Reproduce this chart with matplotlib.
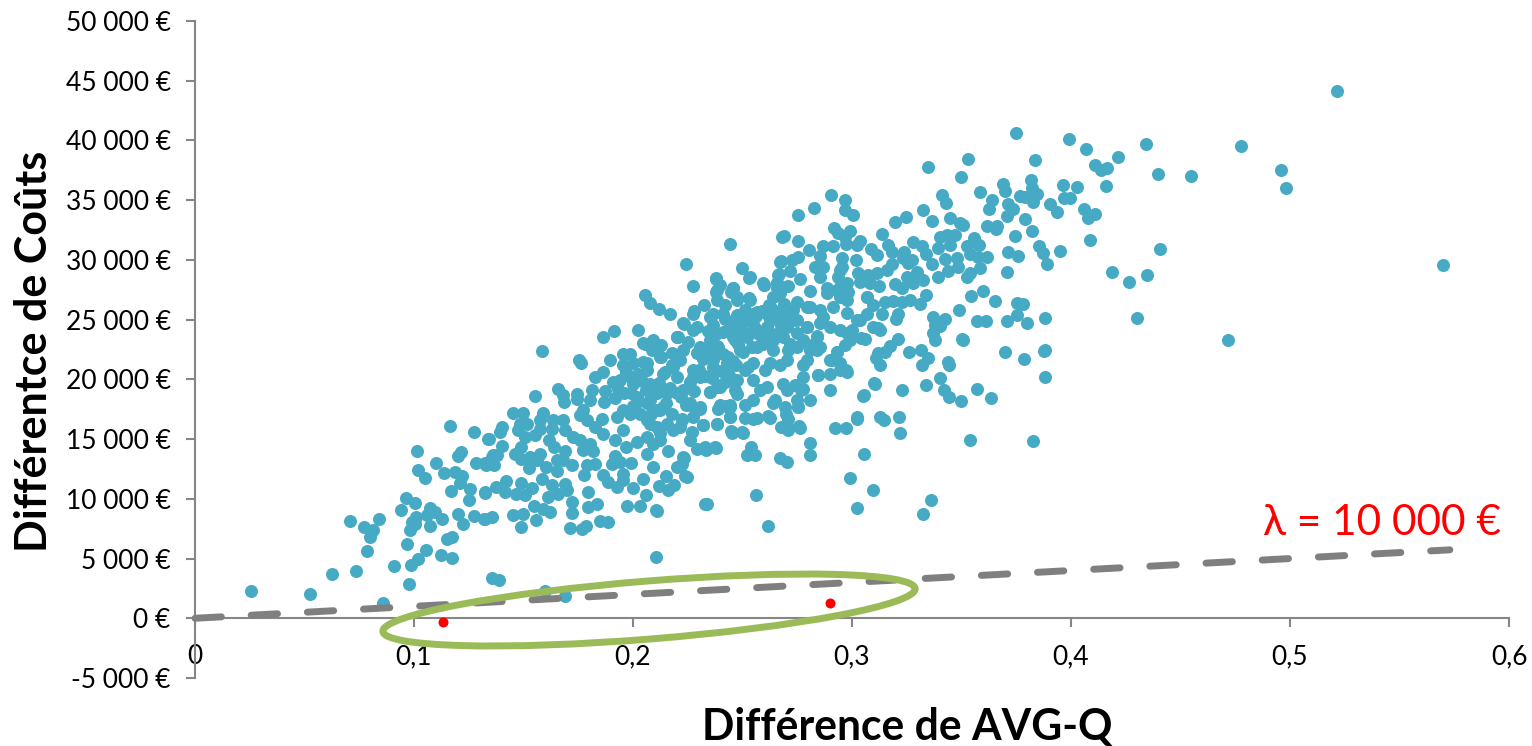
"""Cost difference vs AVG-Q difference scatter, with the lambda threshold line."""

import matplotlib as mpl
import numpy as np
from matplotlib import patches as mpatches
from matplotlib import pyplot as plt
from matplotlib.transforms import IdentityTransform

mpl.rcParams["font.family"] = ["Lato", "DejaVu Sans"]

X_TICKS = [0, 0.1, 0.2, 0.3, 0.4, 0.5, 0.6]
X_LABELS = ["0", "0,1", "0,2", "0,3", "0,4", "0,5", "0,6"]
Y_TICKS = [-5000, 0, 5000, 10000, 15000, 20000, 25000, 30000, 35000, 40000, 45000, 50000]
Y_LABELS = ["-5 000 €", "0 €", "5 000 €", "10 000 €", "15 000 €", "20 000 €",
            "25 000 €", "30 000 €", "35 000 €", "40 000 €", "45 000 €", "50 000 €"]

LAMBDA = 10000
LINE_X = [0, 0.573]

# (AVG-Q difference, cost difference)
LOW_LEFT = [
    (.0254, 2300), (.0525, 2030), (.0627, 3740), (.0734, 3990), (.0706, 8120), (.0773, 7650),
    (.0814, 7430), (.0801, 6810), (.0839, 8320), (.0785, 5610), (.0857, 1250), (.091, 4410),
    (.0939, 9100), (.0965, 10080), (.1006, 9690), (.1012, 13990), (.1017, 12400), (.105, 11750),
    (.1099, 13000), (.1166, 16080), (.1274, 15600), (.1339, 14970), (.1137, 12140), (.12, 13570),
    (.1213, 13960), (.1187, 12230), (.122, 11870), (.121, 11360), (.117, 10690), (.1257, 10860),
    (.1251, 9880), (.1324, 10550), (.1283, 12960), (.1324, 12960), (.1355, 13510), (.0982, 7370),
    (.0989, 8060), (.1009, 8480), (.1005, 7930), (.1061, 8630), (.1073, 9190), (.1096, 8900),
    (.1073, 7730), (.1126, 8270), (.12, 8740), (.1225, 7900), (.1273, 8600), (.1321, 8320),
    (.1152, 6620), (.1174, 6840), (.0967, 6220), (.1055, 5750), (.1018, 4940), (.0986, 4440),
    (.1123, 5280), (.1174, 5050), (.0977, 2910), (.1355, 3410), (.1388, 3200), (.1598, 2300),
    (.1689, 1900), (.2106, 5100), (.2562, 10300), (.2616, 7700), (.2329, 9550), (.2105, 9040),
]
MIDDLE_LOW = [
    (.1583, 22360), (.1755, 21610), (.1762, 21410), (.1863, 23560), (.1914, 24060), (.2021, 24120),
    (.1895, 21610), (.1955, 22110), (.1986, 22110), (.1826, 20210), (.1864, 20630), (.191, 19790),
    (.194, 19930), (.1955, 21190), (.2001, 21330), (.2047, 21470), (.197, 20630), (.2024, 20490),
    (.2001, 19650), (.2077, 19650), (.2062, 20770), (.2054, 23000), (.2092, 23280), (.213, 22860),
    (.2085, 22440), (.213, 21890), (.2176, 22170), (.2214, 21610), (.2146, 20630), (.2199, 20210),
    (.2275, 20210), (.2305, 20210), (.2204, 23560), (.2252, 23140), (.229, 22170), (.2351, 22860),
    (.2389, 22720), (.2275, 24120), (.2351, 23980), (.2458, 23560), (.2435, 21890), (.2366, 21610),
    (.2458, 19930), (.2382, 19370), (.2351, 18950), (.1552, 18620), (.1657, 19180), (.1682, 18680),
    (.1685, 18120), (.1745, 18810), (.1745, 18390), (.1811, 19090), (.1803, 18260), (.1872, 19040),
    (.1867, 18120), (.1917, 18450), (.1773, 17420), (.1758, 17000), (.1788, 16580), (.1453, 17220),
    (.1499, 17220), (.159, 17220), (.1484, 16300), (.1514, 16300), (.1575, 16580), (.1636, 16580),
    (.1682, 16580), (.1476, 15740), (.1552, 15320), (.1575, 15880), (.1628, 15880), (.1689, 15740),
    (.14, 16020), (.1392, 15600), (.1344, 14990), (.14, 14430), (.1506, 15180), (.149, 14350),
    (.146, 13730), (.149, 13370), (.1529, 13510), (.1575, 13790), (.156, 13230), (.1618, 14960),
    (.1639, 14350), (.169, 14010), (.1654, 13230), (.172, 12810), (.1682, 13230), (.1601, 12670),
    (.1651, 12310), (.1525, 12590), (.1362, 13710), (.1377, 13650), (.1331, 12870), (.1365, 12810),
    (.1727, 15180), (.1758, 14910), (.1803, 14630), (.1773, 14070), (.1819, 14010), (.1857, 16720),
    (.1826, 16020), (.1864, 15460), (.1917, 14910), (.1925, 16860), (.1955, 17420), (.1986, 17140),
    (.1955, 15740), (.197, 14350), (.2016, 14770), (.2062, 15180), (.2092, 14630), (.2032, 17140),
    (.2062, 16580), (.2108, 17420), (.2016, 18540), (.2077, 18260), (.2138, 17700), (.2153, 16300),
    (.2108, 16020), (.2222, 16720), (.2275, 16860), (.2214, 16020), (.226, 17840), (.2305, 17560),
    (.2321, 16160), (.2389, 17560), (.2442, 17700), (.2442, 16810), (.2385, 16300), (.2453, 15580),
    (.2123, 14910), (.2161, 14010), (.2062, 13790), (.2092, 12670), (.229, 14210), (.2333, 14070),
    (.2374, 14350), (.2229, 13510), (.2225, 12950), (.2248, 11830), (.1917, 13570), (.1902, 12950),
    (.194, 13090), (.1993, 13040), (.1788, 12810), (.1826, 12900), (.1777, 12030), (.1864, 11970),
    (.1887, 11420), (.1955, 12110), (.1955, 11560), (.1925, 10990), (.2001, 10940), (.2044, 11700),
    (.215, 11950), (.212, 11080), (.2161, 10770), (.2187, 11140), (.2059, 10360), (.1972, 9430),
    (.2032, 9380), (.2108, 9010), (.2336, 9570), (.1793, 10600), (.172, 9710), (.1721, 8820),
    (.1796, 9320), (.1834, 9550), (.1324, 10520), (.1373, 10990), (.142, 11500), (.1415, 10580),
    (.1468, 10380), (.1507, 10300), (.1488, 11360), (.1541, 10940), (.1583, 11640), (.1613, 10160),
    (.1631, 11140), (.1659, 10440), (.1689, 11220), (.1697, 10720), (.1549, 9400), (.159, 9180),
    (.162, 8930), (.1324, 8290), (.1354, 8480), (.1453, 8620), (.1499, 8760), (.1487, 7650),
    (.1555, 8260), (.1712, 7560), (.1765, 7450), (.1785, 7730), (.1849, 8150), (.1887, 8070),
]
MIDDLE_HIGH = [
    (.2056, 27100), (.2079, 26430), (.2118, 25900), (.2169, 25460), (.2242, 29670), (.2272, 27800),
    (.2441, 31290), (.2377, 28420), (.2397, 27890), (.2379, 27330), (.2385, 26630), (.2496, 29310),
    (.2531, 28500), (.2598, 27890), (.2458, 27660), (.2446, 27330), (.242, 26210), (.2473, 26910),
    (.2531, 26770), (.2473, 25370), (.2324, 26210), (.2278, 25760), (.2232, 24670), (.2366, 25510),
    (.242, 25090), (.2366, 24530), (.2344, 24060), (.2202, 23560), (.2047, 23080), (.2306, 22720),
    (.2351, 23280), (.2385, 22800), (.2473, 23840), (.2465, 23280), (.2564, 25650), (.2633, 25930),
    (.264, 26910), (.2671, 27800), (.2663, 28720), (.2671, 29840), (.2679, 31940), (.2549, 24670),
    (.2625, 24950), (.2519, 23560), (.2595, 23000),
]
CENTRE = [
    (.2412, 22100), (.2455, 21500), (.25, 22300), (.2525, 21000), (.248, 23000), (.2545, 22700),
    (.249, 24400), (.253, 24900), (.256, 24200), (.258, 23700), (.261, 23100), (.264, 22500),
    (.266, 23900), (.27, 24900), (.272, 25300), (.275, 25000), (.269, 26300), (.265, 25200),
    (.262, 26200), (.259, 25700), (.256, 25300), (.251, 25800), (.244, 24800), (.241, 24000),
    (.238, 23800), (.235, 22300), (.232, 21700), (.23, 20800), (.233, 20300), (.236, 20100),
    (.24, 20700), (.244, 20400), (.247, 21200), (.242, 19800), (.218, 21200), (.215, 19000),
    (.211, 18900), (.206, 19100), (.202, 18100), (.199, 18900), (.223, 19100), (.226, 19800),
    (.222, 18500), (.228, 19000), (.212, 19700), (.2626, 25520), (.2687, 25800), (.2747, 26500),
    (.2808, 26070), (.2869, 25240), (.2915, 26070), (.2976, 25520), (.261, 24400), (.2671, 24680),
    (.2732, 24960), (.2793, 24400), (.2854, 24680), (.2626, 23280), (.2687, 23560), (.2747, 23840),
]
DENSE_CORE = [
    (.2489, 24960), (.2549, 25510), (.261, 25510), (.2671, 25510), (.2732, 25790), (.2793, 26070),
    (.2854, 25790), (.2671, 27190), (.2656, 28030), (.2458, 23840), (.2534, 23840), (.261, 24120),
    (.2702, 24400), (.2793, 24400), (.2489, 22440), (.2565, 22720), (.2641, 23280), (.2717, 23000),
    (.2808, 22720), (.2382, 22440), (.2306, 22160), (.223, 22440), (.2367, 21050), (.2428, 21330),
    (.255, 21330), (.2626, 21330), (.2702, 21600), (.2793, 21600), (.2276, 20770), (.2184, 21050),
    (.2123, 21880), (.2291, 24400), (.2352, 25230), (.2413, 25510), (.2276, 25510), (.223, 24680),
    (.2199, 23560), (.2473, 26630), (.2534, 26630), (.2382, 27470), (.2458, 27610), (.2595, 28030),
    (.2534, 28590), (.2379, 28450), (.2884, 27190), (.2945, 27750), (.2976, 26630), (.3067, 26910),
    (.3067, 25510), (.3021, 24960), (.3097, 24400), (.2976, 23840), (.2839, 23560), (.2839, 22440),
    (.293, 22300), (.2907, 21600), (.2945, 21330), (.2976, 20630), (.29, 20490), (.2846, 20400),
    (.29, 19090), (.3052, 18620), (.3105, 19650), (.3021, 16720), (.2778, 20210), (.2778, 19230),
    (.2747, 18260), (.2808, 18260), (.2755, 17700), (.2686, 19650), (.2702, 19090), (.261, 19370),
    (.2549, 19930), (.2473, 19930), (.2473, 18810), (.2352, 18950), (.2397, 19370), (.2549, 18260),
    (.2511, 17840), (.2641, 17980), (.2694, 17700), (.2618, 16940), (.2549, 16660), (.2709, 16660),
    (.2709, 15800), (.2763, 15970), (.2397, 17840), (.2443, 17840), (.2443, 16860), (.2382, 16300),
    (.2451, 15550), (.2504, 15470), (.226, 17980), (.2306, 17700), (.2222, 16580), (.2321, 16160),
    (.2199, 18820), (.2154, 18820), (.2078, 19370), (.2062, 17980), (.2123, 17420), (.2139, 20490),
    (.2062, 21330), (.2078, 16300), (.2123, 15470), (.2184, 15740), (.199, 20200), (.204, 19900),
    (.209, 19000), (.217, 19300), (.208, 17100), (.2, 17800), (.215, 18000), (.218, 17100),
    (.196, 18900), (.193, 19200),
]
UPPER = [
    (.3747, 40590), (.3531, 38440), (.3836, 38360), (.3349, 37750), (.3498, 36910), (.3816, 36680),
    (.3691, 36350), (.3699, 35790), (.3823, 35990), (.3843, 35510), (.3767, 35340), (.379, 35230),
    (.3828, 34870), (.3584, 35650), (.341, 35430), (.3429, 34790), (.3638, 35010), (.3627, 34280),
    (.3711, 34670), (.3736, 34260), (.3706, 33670), (.3904, 34670), (.3935, 34030), (.379, 33450),
    (.382, 32440), (.3326, 34200), (.3364, 33250), (.3245, 33610), (.3195, 33190), (.3448, 33530),
    (.3493, 33110), (.3508, 32890), (.3618, 32800), (.3664, 32830), (.3658, 32550), (.3746, 32020),
    (.3136, 32130), (.2906, 35460), (.2967, 35040), (.2968, 34170), (.3006, 33780), (.2827, 34370),
    (.2752, 33720), (.269, 31990), (.2755, 31570), (.2802, 30850), (.2918, 32640), (.2938, 32220),
    (.2991, 32440), (.2968, 31940), (.3037, 31600), (.2973, 31320), (.3021, 31240), (.2869, 31180),
    (.2912, 31180), (.3088, 30880), (.3116, 30400), (.3166, 31270), (.3181, 30680), (.328, 31520),
    (.3318, 31160), (.3338, 30460), (.3239, 30680), (.3234, 30120), (.3272, 29980), (.3402, 31940),
    (.3432, 32080), (.347, 32080), (.3394, 30960), (.3448, 31240), (.3527, 31160), (.3559, 31850),
    (.3581, 31210), (.3539, 30460), (.3577, 30260), (.3618, 30210), (.3425, 30070), (.3478, 30120),
    (.344, 29090), (.3486, 29420), (.3367, 29620), (.3391, 28590), (.3585, 29290), (.3539, 28870),
    (.3524, 28530), (.3714, 30680), (.376, 30290), (.3852, 31160), (.3871, 30600), (.3892, 29620),
    (.3709, 28950), (.395, 30740), (.3017, 29980), (.2953, 30120), (.2953, 29420), (.2854, 30320),
    (.2831, 29420), (.2869, 29420), (.2755, 30210), (.2725, 29980), (.2676, 29900), (.2717, 29060),
    (.2668, 28810), (.2763, 28360), (.26, 27890), (.2709, 27810), (.2656, 28030), (.2854, 28590),
    (.2938, 28590), (.2945, 29150), (.3029, 28870), (.3075, 28730), (.3113, 28870), (.3158, 29150),
    (.3181, 29650), (.3037, 28170), (.3082, 28030), (.3125, 27830), (.2976, 28030), (.2983, 27330),
    (.2884, 27610), (.2808, 27410), (.293, 27470), (.2945, 26910), (.2664, 27050), (.2656, 27610),
    (.3257, 29700), (.3295, 29010), (.3326, 28310), (.3196, 27950), (.3227, 27610), (.325, 28590),
    (.328, 28030), (.3336, 27050), (.3311, 26350), (.3151, 26490), (.3189, 26580), (.3227, 26490),
    (.3265, 26630), (.3067, 26910), (.3097, 26210), (.3037, 25010), (.3136, 25460), (.312, 24340),
    (.3212, 25460), (.3201, 25040), (.3368, 25180), (.3426, 25040), (.3402, 24480), (.3368, 23840),
    (.3487, 25800), (.3543, 26990), (.3599, 27410), (.3654, 26520), (.3755, 26410), (.3779, 26300),
    (.3755, 25380), (.3798, 24680), (.3569, 24850), (.361, 24870), (.3706, 24850), (.3883, 25100),
    (.3504, 23370), (.3699, 22250), (.3787, 21720), (.3881, 22450), (.344, 21470), (.326, 22330),
    (.3317, 22450), (.3349, 21750), (.3212, 23370), (.3174, 22810), (.312, 22170), (.293, 22310),
    (.306, 23420), (.2999, 24120), (.2991, 23280), (.2945, 24120), (.29, 24400), (.2839, 23620),
    (.2854, 22670), (.2808, 22440), (.2778, 23280), (.2747, 22720), (.2709, 22440),
]
FAR_RIGHT = [
    (.5215, 44140), (.5699, 29560), (.4776, 39530), (.4959, 37520), (.4982, 36010), (.4548, 37020),
    (.4342, 39700), (.4397, 37180), (.3991, 40120), (.4068, 39280), (.411, 37940), (.4137, 37520),
    (.4164, 37690), (.4215, 38610), (.416, 36180), (.3963, 36260), (.4027, 36100), (.3995, 35170),
    (.3968, 35170), (.4059, 34250), (.411, 33830), (.4078, 33500), (.4087, 31660), (.4187, 28980),
    (.4265, 28140), (.4347, 28730), (.4406, 30900), (.4301, 25120), (.4717, 23280), (.3877, 22360),
    (.3881, 20180), (.3826, 14820),
]
LOWER_TAIL = [
    (.332, 21190), (.3338, 19510), (.3402, 20100), (.342, 19100), (.3443, 18510), (.3498, 18170),
    (.3571, 19180), (.3635, 18430), (.3539, 14910), (.3443, 21190), (.3228, 19100), (.3215, 16830),
    (.3219, 15490), (.3146, 16580), (.3128, 16830), (.3023, 16830), (.31, 19680), (.3055, 18680),
    (.2945, 20770), (.2973, 20770), (.3041, 23450), (.2922, 15910), (.2973, 15910), (.2991, 11730),
    (.3055, 13740), (.3096, 10720), (.3023, 9210), (.3324, 8710), (.3361, 9880), (.2808, 14650),
    (.2753, 17670), (.2758, 16080), (.2699, 17080), (.2708, 15910), (.2676, 16000), (.2671, 13400),
    (.2703, 13060), (.2808, 13650), (.2539, 14320), (.2557, 13650), (.2521, 13650), (.2447, 15660),
    (.2498, 15580), (.2329, 14320), (.2379, 14240), (.2269, 15580), (.2425, 17750), (.2511, 16750),
    (.2566, 16750), (.2626, 16750), (.2648, 18260), (.258, 19100), (.2466, 19100), (.2397, 19510),
    (.2603, 20770), (.2511, 20770), (.2671, 21190), (.274, 19510), (.2767, 19100), (.29, 21610),
    (.2845, 20350), (.2776, 21190), (.2817, 22860), (.2242, 17840), (.226, 14910), (.2233, 13400),
    (.2237, 11890), (.2201, 12650), (.3379, 24540), (.3379, 23280), (.3507, 23280), (.315, 22280),
    (.3128, 24120), (.311, 21780), (.3128, 21190), (.2968, 22860),
]
RED_POINTS = [(.1131, -280), (.29, 1250)]


def main():
    fig = plt.figure(figsize=(15.32, 7.46), dpi=100)
    ax = fig.add_axes([195 / 1532, 1 - 678 / 746, (1509 - 195) / 1532, (678 - 21) / 746])
    ax.set_xlim(0, 0.6)
    ax.set_ylim(-5000, 50000)

    for name in ["top", "right"]:
        ax.spines[name].set_visible(False)
    ax.spines["bottom"].set_position(("data", 0))
    for name in ["left", "bottom"]:
        ax.spines[name].set_color("#868686")
        ax.spines[name].set_linewidth(1.5)

    ax.set_xticks(X_TICKS, X_LABELS)
    ax.set_yticks(Y_TICKS, Y_LABELS)
    ax.tick_params(axis="both", color="#868686", width=1.5, length=6.5, direction="out",
                   labelsize=19, labelcolor="black")
    ax.tick_params(axis="y", pad=11)
    ax.tick_params(axis="x", pad=12)

    groups = [LOW_LEFT, MIDDLE_LOW, MIDDLE_HIGH, CENTRE, DENSE_CORE, UPPER, FAR_RIGHT, LOWER_TAIL]
    points = np.array([p for group in groups for p in group])
    ax.scatter(points[:, 0], points[:, 1], s=88, color="#47aac4", linewidths=0, zorder=3,
               clip_on=False)

    # Selection ellipse, placed in figure pixels like the drawn shape it copies
    ellipse = mpatches.Ellipse((649, 746 - 610), 534, 58, angle=4.6, fill=False,
                               edgecolor="#9bbb59", linewidth=5,
                               transform=IdentityTransform(), zorder=4)
    fig.add_artist(ellipse)

    line_x = np.array(LINE_X)
    ax.plot(line_x, LAMBDA * line_x, color="#7f7f7f", linewidth=5, linestyle=(0, (3.8, 4.3)),
            dash_capstyle="round", zorder=5, clip_on=False)

    red = np.array(RED_POINTS)
    ax.scatter(red[:, 0], red[:, 1], s=52, color="#ff0000", linewidths=0, zorder=6)

    ax.text(0.4876, 7000, "λ = 10 000 €", color="#ff0000", fontsize=30.5, va="baseline", ha="left")

    fig.text(907 / 1532, 1 - 727 / 746, "Différence de AVG-Q", fontsize=30.7, fontweight="bold",
             ha="center", va="center")
    fig.text(34 / 1532, 1 - 351 / 746, "Différentce de Coûts", fontsize=31, fontweight="bold",
             rotation=90, ha="center", va="center")

    fig.savefig("out.png", dpi=100)
    plt.close("all")


if __name__ == "__main__":
    main()
